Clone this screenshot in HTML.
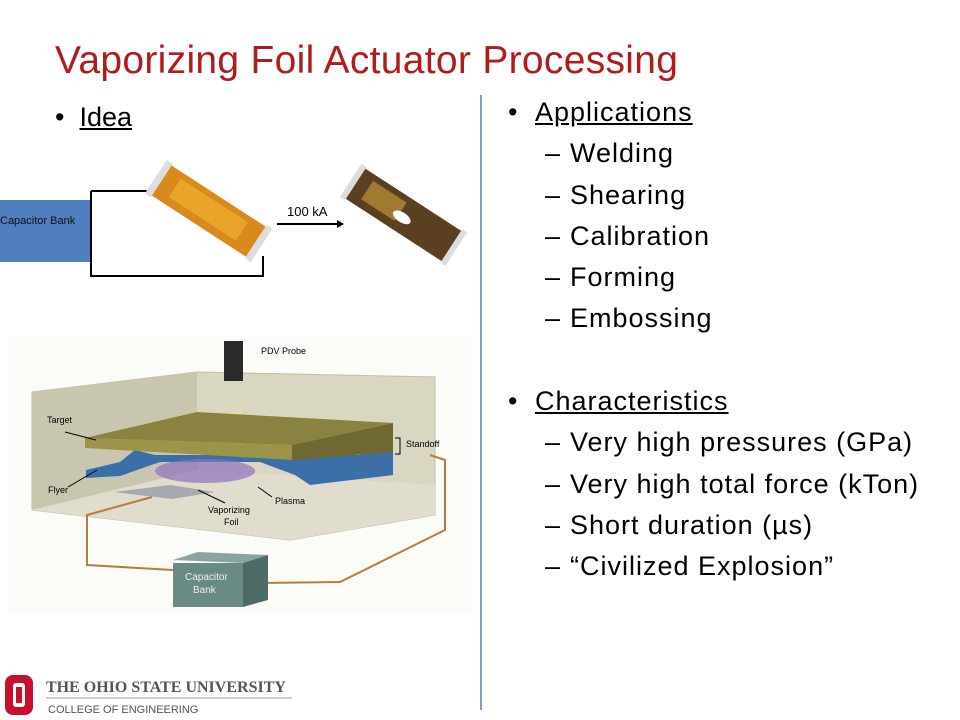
<!DOCTYPE html>
<html><head><meta charset="utf-8"><style>
body{margin:0;width:960px;height:720px;background:#fff;position:relative;overflow:hidden;font-family:"Liberation Sans",sans-serif}
.t{position:absolute;white-space:nowrap}
.b{font-size:27px;color:#000;letter-spacing:1px}
</style></head><body>
<div class="t" style="left:55px;top:39px;font-size:39px;color:#b01c1c;letter-spacing:0.3px">Vaporizing Foil Actuator Processing</div>
<div class="t b" style="left:55px;top:102px;letter-spacing:0">•&nbsp;&nbsp;<u>Idea</u></div>
<div style="position:absolute;left:480px;top:95px;width:2px;height:615px;background:#7f9fcf"></div>
<div class="t b" style="left:508px;top:97px">•</div><div class="t b" style="left:535px;top:97px"><u>Applications</u></div>
<div class="t b" style="left:545px;top:138px">–</div><div class="t b" style="left:570px;top:138px">Welding</div>
<div class="t b" style="left:545px;top:180px">–</div><div class="t b" style="left:570px;top:180px">Shearing</div>
<div class="t b" style="left:545px;top:221px">–</div><div class="t b" style="left:570px;top:221px">Calibration</div>
<div class="t b" style="left:545px;top:262px">–</div><div class="t b" style="left:570px;top:262px">Forming</div>
<div class="t b" style="left:545px;top:303px">–</div><div class="t b" style="left:570px;top:303px">Embossing</div>
<div class="t b" style="left:508px;top:386px">•</div><div class="t b" style="left:535px;top:386px"><u>Characteristics</u></div>
<div class="t b" style="left:545px;top:427px">–</div><div class="t b" style="left:570px;top:427px">Very high pressures (GPa)</div>
<div class="t b" style="left:545px;top:469px">–</div><div class="t b" style="left:570px;top:469px">Very high total force (kTon)</div>
<div class="t b" style="left:545px;top:510px">–</div><div class="t b" style="left:570px;top:510px">Short duration (µs)</div>
<div class="t b" style="left:545px;top:551px">–</div><div class="t b" style="left:570px;top:551px">“Civilized Explosion”</div>
<svg width="480" height="720" style="position:absolute;left:0;top:0" font-family="Liberation Sans,sans-serif">
<rect x="0" y="200" width="90" height="62" fill="#4f7fbf"/>
<text x="0" y="224" font-size="11" fill="#111">Capacitor Bank</text>
<path d="M91 191H155M91 191V276H263V256" stroke="#000" stroke-width="2" fill="none"/>
<g transform="rotate(33 207 210)"><rect x="150" y="192" width="118" height="36" fill="#d98a1c"/><rect x="168" y="198" width="80" height="22" fill="#f0b030" opacity=".7"/><rect x="146" y="190" width="7" height="40" fill="#ddd"/><rect x="265" y="190" width="7" height="40" fill="#ddd"/></g>
<text x="287" y="216" font-size="13">100 kA</text>
<path d="M277 224H338" stroke="#000" stroke-width="2"/><path d="M344 224l-7-4v8z"/>
<g transform="rotate(33 404 214)"><rect x="345" y="197" width="118" height="36" fill="#5a4020"/><rect x="360" y="203" width="40" height="22" fill="#a07a30"/><ellipse cx="404" cy="218" rx="10" ry="5" fill="#fff"/><rect x="341" y="195" width="6" height="40" fill="#ddd"/><rect x="461" y="195" width="6" height="40" fill="#ddd"/></g>
<rect x="8" y="336" width="464" height="278" fill="#fbfbf8"/>
<polygon points="32,392 197,372 435,377 435,515 290,540 32,510" fill="#d9d6c2" stroke="#c0bda8"/>
<polygon points="32,392 197,372 197,470 32,510" fill="#c9c6b0"/>
<polygon points="32,510 197,470 435,485 435,515 290,540" fill="#e0ddcc"/>
<rect x="224" y="341" width="19" height="40" fill="#2a2a2a"/>
<text x="261" y="354" font-size="9">PDV Probe</text>
<path d="M229 404v36M233 404v36M237 404v36M241 404v36" stroke="#f0e090" stroke-width="1.5" stroke-dasharray="2 2"/>
<polygon points="86,470 120,462 135,450 155,455 360,455 375,445 393,450 393,475 310,485 295,475 260,462 160,462 120,476 86,478" fill="#3a6fa8"/>
<ellipse cx="205" cy="471" rx="50" ry="12" fill="#9070c0" opacity=".7"/>
<polygon points="85,438 197,412 393,423 292,445" fill="#8a8240"/>
<polygon points="85,438 292,445 292,460 85,448" fill="#9c9448"/>
<polygon points="292,445 393,423 393,452 292,460" fill="#6f6830"/>
<polygon points="114,492 170,485 215,492 172,499" fill="#a8a8b0"/>
<text x="47" y="423" font-size="9">Target</text>
<text x="48" y="493" font-size="9">Flyer</text>
<text x="406" y="447" font-size="9">Standoff</text>
<text x="275" y="504" font-size="9">Plasma</text>
<text x="208" y="513" font-size="9">Vaporizing</text><text x="224" y="525" font-size="9">Foil</text>
<path d="M395 438h5v16h-5" stroke="#000" fill="none"/>
<path d="M65 432L96 440M68 487L97 470M272 497L258 487M225 503L198 490" stroke="#000"/>
<path d="M152 497L87 515V565L173 570M262 583L340 582L445 530V460L430 455" stroke="#b87a40" stroke-width="2" fill="none"/>
<polygon points="173,560 198,552 268,555 243,563" fill="#8aa59f"/>
<polygon points="243,563 268,555 268,600 243,607" fill="#4d6b66"/>
<rect x="173" y="563" width="70" height="44" fill="#6a8a84"/>
<text x="185" y="580" font-size="10" fill="#eee">Capacitor</text><text x="193" y="593" font-size="10" fill="#eee">Bank</text>
<rect x="5" y="675" width="28" height="40" rx="8" fill="#c8102e"/><rect x="13" y="683" width="12" height="24" rx="3" fill="#fff"/><rect x="16" y="687" width="6" height="16" fill="#c8102e"/>
<text x="46" y="692" font-size="16" font-family="Liberation Serif,serif" font-weight="bold" fill="#555">THE OHIO STATE UNIVERSITY</text>
<path d="M46 698H292" stroke="#999"/>
<text x="48" y="713" font-size="11" fill="#555">COLLEGE OF ENGINEERING</text>
</svg>
</body></html>
